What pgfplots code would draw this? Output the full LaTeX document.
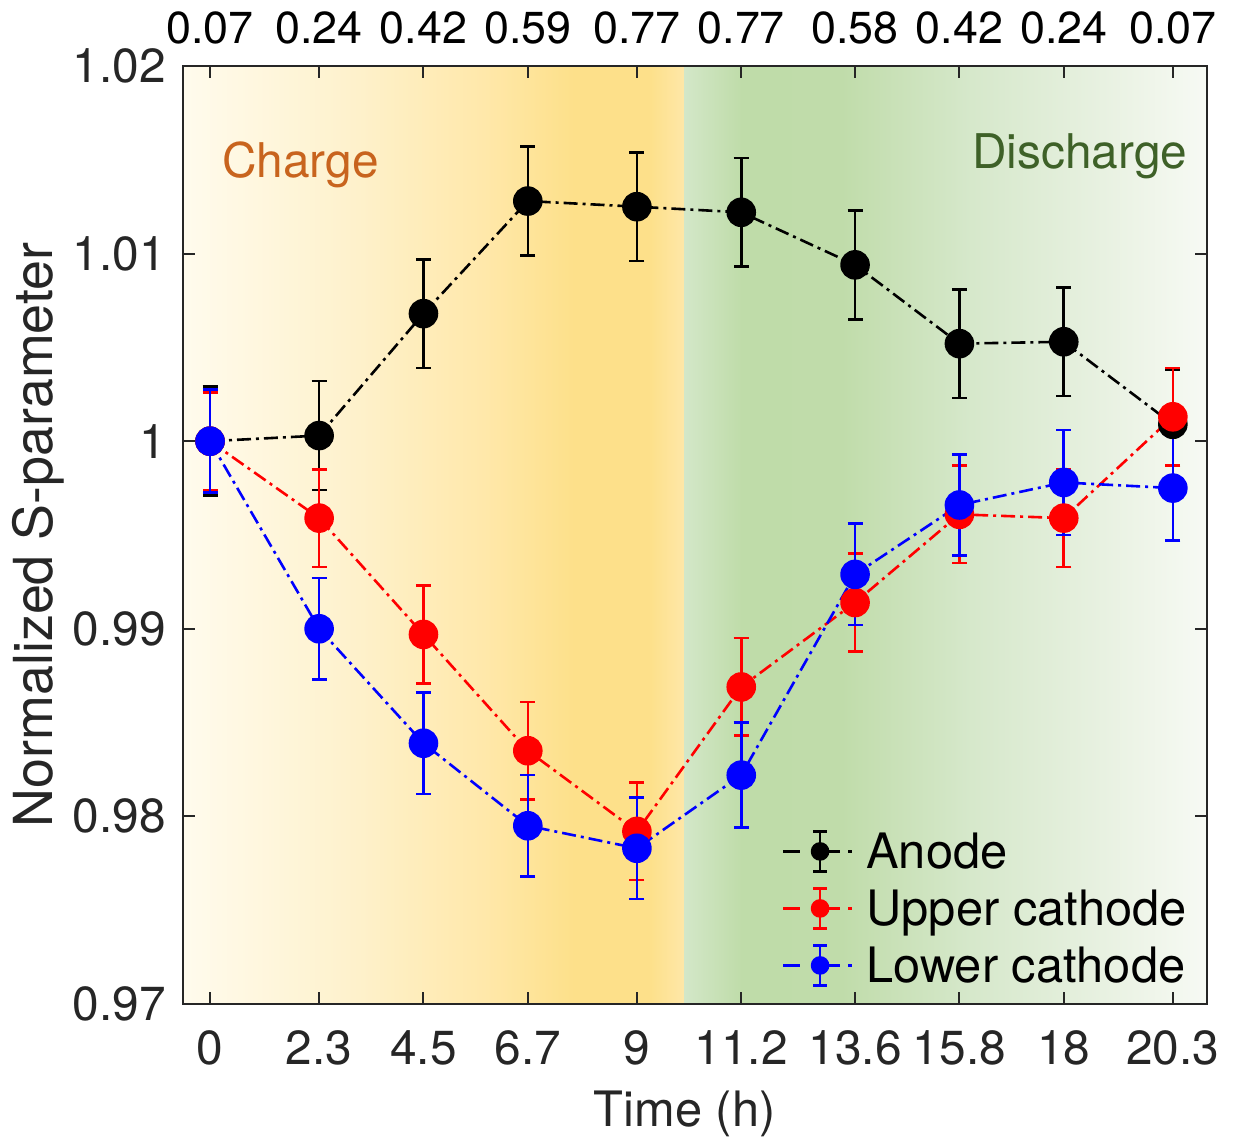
\documentclass[border=0pt]{standalone}
\usepackage{fontspec}
\setmainfont{TeX Gyre Heros}
\usepackage{pgfplots}
\pgfplotsset{compat=1.18}

\definecolor{axcol}{HTML}{262626}
\definecolor{o0}{HTML}{FFFBED}
\definecolor{o1}{HTML}{FEF1CB}
\definecolor{o2}{HTML}{FFE8AA}
\definecolor{o3}{HTML}{FDE08A}
\definecolor{o4}{HTML}{FEE7A8}
\definecolor{g0}{HTML}{D3E7C8}
\definecolor{g1}{HTML}{BFDCA9}
\definecolor{g2}{HTML}{C0DCAA}
\definecolor{g3}{HTML}{D6E8CB}
\definecolor{g4}{HTML}{E8F1E1}
\definecolor{g5}{HTML}{F7FAF4}
\definecolor{chargecol}{HTML}{C8641E}
\definecolor{dischargecol}{HTML}{3E6128}

\pgfdeclarehorizontalshading{chg}{100bp}{color(0bp)=(o0); color(25bp)=(o0); color(42.5bp)=(o1); color(55bp)=(o2); color(64bp)=(o3); color(71.5bp)=(o3); color(75bp)=(o4); color(100bp)=(o4)}
\pgfdeclarehorizontalshading{dis}{100bp}{color(0bp)=(g0); color(25bp)=(g0); color(30.5bp)=(g1); color(40bp)=(g2); color(52.5bp)=(g3); color(65bp)=(g4); color(75bp)=(g5); color(100bp)=(g5)}

\pgfplotsset{
  errstyle/.style={
    line width=1.3bp,
    dash pattern=on 7bp off 2.5bp on 1.5bp off 2.5bp,
    mark=*, mark size=6.75bp,
    /pgfplots/error bars/y dir=both,
    /pgfplots/error bars/y explicit,
    /pgfplots/error bars/error bar style={line width=1.3bp, solid},
    /pgfplots/error bars/error mark options={rotate=90, line width=1.3bp, mark size=3.75bp, solid},
  },
  legend image code/.code={
    \draw[#1, solid, mark=none] (0bp,0bp) -- (8.5bp,0bp) (21bp,0bp) -- (28.5bp,0bp) (32.5bp,0bp) -- (34.5bp,0bp);
    \draw[#1, solid, mark=none, overlay] (18.5bp,-10bp) -- (18.5bp,10bp) (15bp,-10bp) -- (22bp,-10bp) (15bp,10bp) -- (22bp,10bp);
    \fill[#1, solid, mark=none, overlay] (18.5bp,0bp) circle (4bp);
  },
}

\begin{document}
\begin{tikzpicture}
\begin{axis}[
  name=ax, at={(0,0)}, anchor=south west,
  scale only axis, width=512bp, height=469bp,
  xmin=-0.57, xmax=21.02, ymin=0.97, ymax=1.02,
  xtick={0,2.3,4.5,6.7,9,11.2,13.6,15.8,18,20.3},
  xticklabels={0,2.3,4.5,6.7,9,11.2,13.6,15.8,18,20.3},
  ytick={0.97,0.98,0.99,1,1.01,1.02},
  yticklabels={0.97,0.98,0.99,1,1.01,1.02},
  axis on top,
  axis line style={axcol, line width=1.2bp},
  major tick length=6bp,
  tick style={axcol, line width=1bp},
  tick label style={font=\fontsize{24}{28}\selectfont, text=axcol},
  xticklabel style={anchor=north, inner sep=0pt, yshift=-13bp},
  yticklabel style={anchor=east, inner sep=0pt, xshift=-8.5bp},
  xlabel={Time (h)},
  xlabel style={font=\fontsize{24.5}{28}\selectfont, text=axcol, at={(axis description cs:0.49,-0.1311)}, anchor=base, inner sep=0pt},
  ylabel={Normalized S-parameter},
  ylabel style={font=\fontsize{27}{31}\selectfont, text=axcol, at={(axis description cs:-0.127,0.5)}, anchor=base, inner sep=0pt},
  legend style={at={(axis description cs:0.9824,0.1908)}, anchor=north east, draw=none, fill=none, inner sep=0pt, row sep=2.5bp,
    font=\fontsize{24.5}{29}\selectfont,
    nodes={inner sep=1bp, text height=20.5bp, text depth=3.5bp},
    /tikz/every odd column/.append style={column sep=5.5bp}},
  legend cell align=left,
]
\shade[shading=chg] (axis cs:-0.57,0.97) rectangle (axis cs:10,1.02);
\shade[shading=dis] (axis cs:10,0.97) rectangle (axis cs:21.02,1.02);

\addplot[black, mark options={solid, fill=black, draw=black}, errstyle] coordinates {
  (0,1.0000) +- (0,0.0029)
  (2.3,1.0003) +- (0,0.0029)
  (4.5,1.0068) +- (0,0.0029)
  (6.7,1.0128) +- (0,0.0029)
  (9,1.0125) +- (0,0.0029)
  (11.2,1.0122) +- (0,0.0029)
  (13.6,1.0094) +- (0,0.0029)
  (15.8,1.0052) +- (0,0.0029)
  (18,1.0053) +- (0,0.0029)
  (20.3,1.0009) +- (0,0.0029)
};
\addplot[red, mark options={solid, fill=red, draw=red}, errstyle] coordinates {
  (0,1.0000) +- (0,0.0026)
  (2.3,0.9959) +- (0,0.0026)
  (4.5,0.9897) +- (0,0.0026)
  (6.7,0.9835) +- (0,0.0026)
  (9,0.9792) +- (0,0.0026)
  (11.2,0.9869) +- (0,0.0026)
  (13.6,0.9914) +- (0,0.0026)
  (15.8,0.9961) +- (0,0.0026)
  (18,0.9959) +- (0,0.0026)
  (20.3,1.0013) +- (0,0.0026)
};
\addplot[blue, mark options={solid, fill=blue, draw=blue}, errstyle] coordinates {
  (0,1.0000) +- (0,0.00275)
  (2.3,0.9900) +- (0,0.0027)
  (4.5,0.9839) +- (0,0.0027)
  (6.7,0.9795) +- (0,0.0027)
  (9,0.9783) +- (0,0.0027)
  (11.2,0.9822) +- (0,0.0028)
  (13.6,0.9929) +- (0,0.0027)
  (15.8,0.9966) +- (0,0.0027)
  (18,0.9978) +- (0,0.0028)
  (20.3,0.9975) +- (0,0.0028)
};
\legend{Anode, Upper cathode, Lower cathode}

\node[anchor=base west, inner sep=0pt, text=chargecol, font=\fontsize{24}{28}\selectfont] at (axis cs:0.25,1.01408) {Charge};
\node[anchor=base east, inner sep=0pt, text=dischargecol, font=\fontsize{24}{28}\selectfont] at (axis cs:20.615,1.01456) {Discharge};
\end{axis}

\begin{axis}[
  at={(0,0)}, anchor=south west,
  scale only axis, width=512bp, height=469bp,
  xmin=-0.57, xmax=21.02, ymin=0.97, ymax=1.02,
  axis x line*=top, axis y line=none,
  axis line style={draw=none},
  xtick={0,2.3,4.5,6.7,9,11.2,13.6,15.8,18,20.3},
  xticklabels={0.07,0.24,0.42,0.59,0.77,0.77,0.58,0.42,0.24,0.07},
  major tick length=0pt,
  xticklabel style={anchor=south, inner sep=0pt, yshift=10.5bp, font=\fontsize{22.5}{26}\selectfont, text=black},
]
\end{axis}

\pgfresetboundingbox
\path[use as bounding box] ([shift={(-91.5bp,-67bp)}]ax.south west) rectangle ([shift={(13bp,33bp)}]ax.north east);
\end{tikzpicture}
\end{document}
